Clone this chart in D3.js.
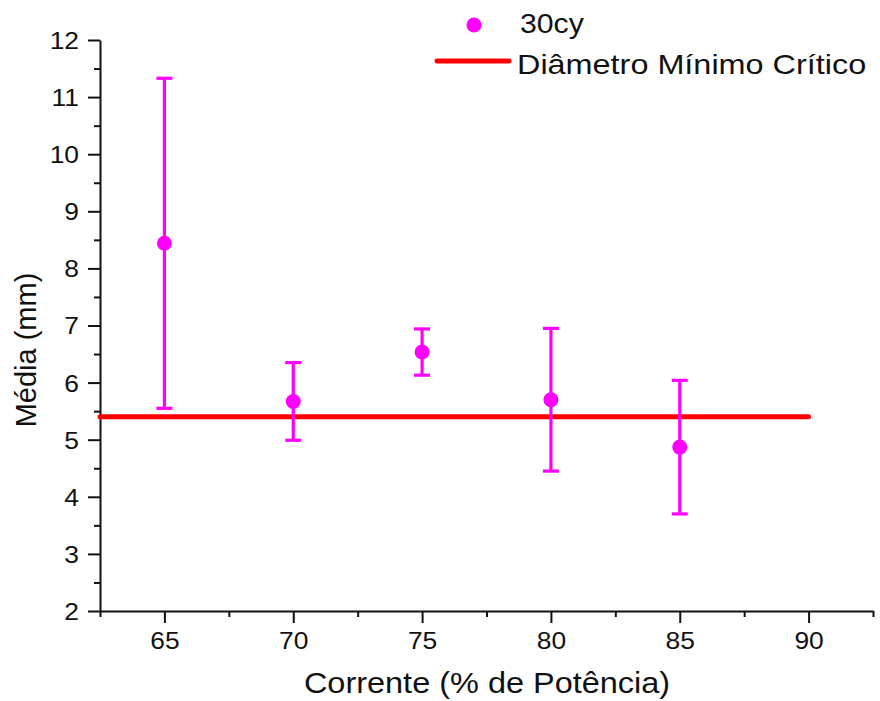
<!DOCTYPE html>
<html>
<head>
<meta charset="utf-8">
<script src="https://cdn.jsdelivr.net/npm/d3@7"></script>
<style>
  html, body { margin: 0; padding: 0; background: #fff; }
  svg { display: block; }
  text { font-family: "Liberation Sans", Arial, sans-serif; fill: #111; }
</style>
</head>
<body>
<svg id="chart" width="880" height="701"></svg>
<script>
// ---- data ----
const corrente = [65, 70, 75, 80, 85];
const media = [8.44, 5.67, 6.535, 5.70, 4.87];
const erro = [2.89, 0.68, 0.405, 1.25, 1.17];
const diametroCritico = 5.4;
const diametroRange = [62.5, 90];
const xTicks = [65, 70, 75, 80, 85, 90];
const xMinorTicks = [62.5, 67.5, 72.5, 77.5, 82.5, 87.5, 92.5];
const yTicks = [2, 3, 4, 5, 6, 7, 8, 9, 10, 11, 12];
const yMinorTicks = [2.5, 3.5, 4.5, 5.5, 6.5, 7.5, 8.5, 9.5, 10.5, 11.5];
const seriesName = "30cy";
const lineName = "Diâmetro Mínimo Crítico";
const xTitle = "Corrente (% de Potência)";
const yTitle = "Média (mm)";

const magenta = "#ff00ff";
const red = "#ff0000";

const svg = d3.select("#chart");
const x = d3.scaleLinear().domain([62.5, 92.5]).range([100, 873]);
const y = d3.scaleLinear().domain([2, 12]).range([611, 40]);

// minor ticks
svg.append("g").attr("transform", "translate(100,0)")
  .call(d3.axisLeft(y).tickValues(yMinorTicks).tickSize(6).tickFormat(""))
  .call(g => g.select(".domain").remove())
  .call(g => g.selectAll("line").attr("stroke", "#111").attr("stroke-width", 2));
svg.append("g").attr("transform", "translate(0,611)")
  .call(d3.axisBottom(x).tickValues(xMinorTicks).tickSize(6).tickFormat(""))
  .call(g => g.select(".domain").remove())
  .call(g => g.selectAll("line").attr("stroke", "#111").attr("stroke-width", 2));

// major axes
const yAxis = svg.append("g").attr("transform", "translate(100,0)")
  .call(d3.axisLeft(y).tickValues(yTicks).tickSize(12).tickSizeOuter(0).tickFormat(d3.format("d")));
const xAxis = svg.append("g").attr("transform", "translate(0,611)")
  .call(d3.axisBottom(x).tickValues(xTicks).tickSize(12).tickSizeOuter(0).tickFormat(d3.format("d")));

[yAxis, xAxis].forEach(g => {
  g.attr("font-size", null).attr("font-family", null);
  g.select(".domain").attr("stroke", "#111").attr("stroke-width", 2);
  g.selectAll(".tick line").attr("stroke", "#111").attr("stroke-width", 2);
  g.selectAll(".tick text").attr("fill", "#111")
    .style("font-family", '"Liberation Sans", Arial, sans-serif')
    .style("font-size", "24px");
});
yAxis.selectAll(".tick text")
  .attr("x", 0).attr("dy", "0.35em")
  .attr("transform", "translate(-21,0) scale(1.1,1)");
xAxis.selectAll(".tick text")
  .attr("y", 0).attr("dy", 0)
  .attr("transform", "translate(0,38) scale(1.1,1)");

// critical diameter line
svg.append("line")
  .attr("x1", x(diametroRange[0])).attr("x2", x(diametroRange[1]))
  .attr("y1", y(diametroCritico)).attr("y2", y(diametroCritico))
  .attr("stroke", red).attr("stroke-width", 5).attr("stroke-linecap", "round");

// error bars
const data = corrente.map((c, i) => ({ c, m: media[i], e: erro[i] }));
const eb = svg.append("g").attr("stroke", magenta).attr("stroke-width", 3.2);
eb.selectAll(".v").data(data).join("line")
  .attr("x1", d => x(d.c)).attr("x2", d => x(d.c))
  .attr("y1", d => y(d.m + d.e)).attr("y2", d => y(d.m - d.e));
eb.selectAll(".t").data(data).join("line")
  .attr("x1", d => x(d.c) - 8).attr("x2", d => x(d.c) + 8)
  .attr("y1", d => y(d.m + d.e)).attr("y2", d => y(d.m + d.e));
eb.selectAll(".b").data(data).join("line")
  .attr("x1", d => x(d.c) - 8).attr("x2", d => x(d.c) + 8)
  .attr("y1", d => y(d.m - d.e)).attr("y2", d => y(d.m - d.e));

svg.append("g").selectAll("circle").data(data).join("circle")
  .attr("cx", d => x(d.c)).attr("cy", d => y(d.m)).attr("r", 7.5)
  .attr("fill", magenta);

// axis titles
svg.append("text")
  .attr("transform", "translate(487,693) scale(1.12,1)")
  .attr("text-anchor", "middle").style("font-size", "29px")
  .text(xTitle);
svg.append("text")
  .attr("transform", "translate(36,350) rotate(-90)")
  .attr("text-anchor", "middle").style("font-size", "29px")
  .text(yTitle);

// legend
const lg = svg.append("g");
lg.append("circle").attr("cx", 474).attr("cy", 25).attr("r", 7.5).attr("fill", magenta);
lg.append("text").attr("transform", "translate(520,33) scale(1.12,1)")
  .style("font-size", "27px").text(seriesName);
lg.append("line").attr("x1", 437).attr("x2", 509).attr("y1", 61).attr("y2", 61)
  .attr("stroke", red).attr("stroke-width", 5).attr("stroke-linecap", "round");
lg.append("text").attr("transform", "translate(517,74) scale(1.2,1)")
  .style("font-size", "27px").text(lineName);
</script>
</body>
</html>
